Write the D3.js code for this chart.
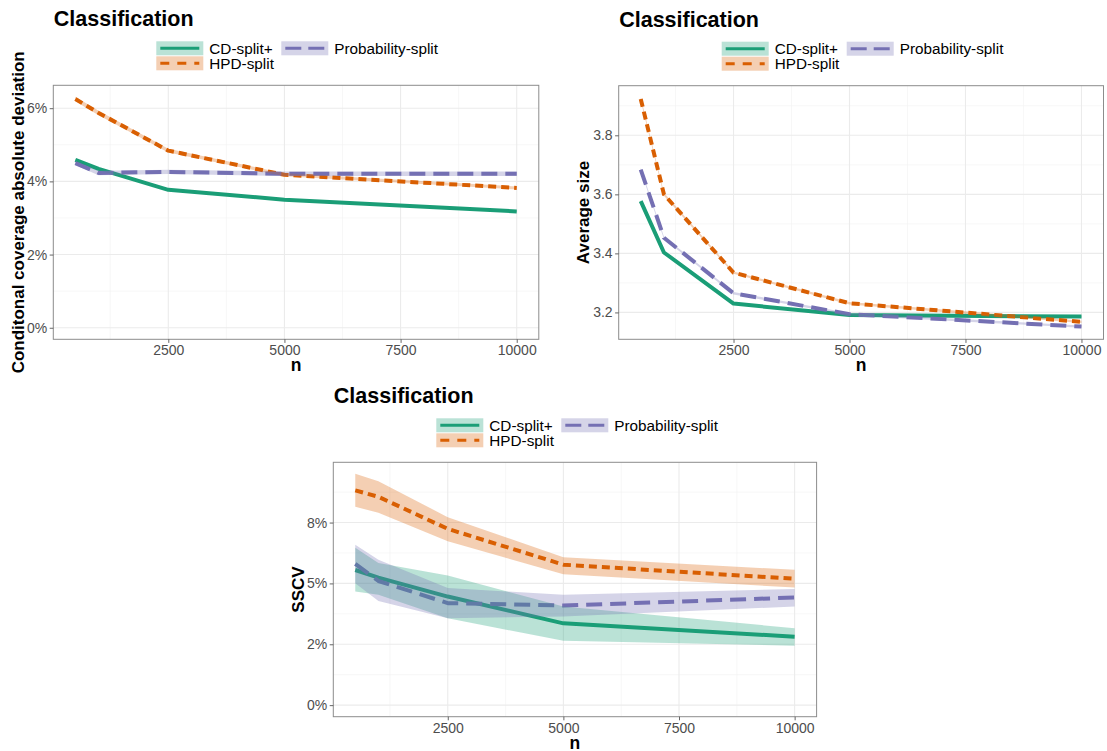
<!DOCTYPE html>
<html>
<head>
<meta charset="utf-8">
<script src="https://cdn.jsdelivr.net/npm/d3@7"></script>
<style>
  html, body { margin: 0; padding: 0; background: #ffffff; }
  svg { display: block; font-family: "Liberation Sans", Arial, Helvetica, sans-serif; }
</style>
</head>
<body>
<svg id="chart" width="1107" height="751"></svg>
<script>
// ---------------- data ----------------
const sampleSizes = [500, 1000, 2500, 5000, 10000];
const methods = ["CD-split+", "HPD-split", "Probability-split"];
const xTicks = [2500, 5000, 7500, 10000];
const xTickLabels = ["2500", "5000", "7500", "10000"];
const xMinor = [1250, 3750, 6250, 8750];

// Panel 1: conditional coverage absolute deviation
const ccadCD = [0.0459, 0.0434, 0.0377, 0.0350, 0.0318];
const ccadCDLo = [0.0456, 0.0431, 0.0375, 0.0348, 0.0316];
const ccadCDHi = [0.0462, 0.0437, 0.0379, 0.0352, 0.0320];
const ccadHPD = [0.0625, 0.0587, 0.0484, 0.0418, 0.0382];
const ccadHPDLo = [0.0619, 0.0581, 0.0479, 0.0414, 0.0378];
const ccadHPDHi = [0.0631, 0.0593, 0.0489, 0.0422, 0.0386];
const ccadProb = [0.0450, 0.0423, 0.0426, 0.0421, 0.0421];
const ccadProbLo = [0.0444, 0.0417, 0.0420, 0.0415, 0.0415];
const ccadProbHi = [0.0456, 0.0429, 0.0432, 0.0427, 0.0427];
const ccadYTicks = [0, 0.02, 0.04, 0.06];
const ccadYLabels = ["0%", "2%", "4%", "6%"];
const ccadYMinor = [0.01, 0.03, 0.05];

// Panel 2: average size
const sizeCD = [3.577, 3.403, 3.230, 3.191, 3.186];
const sizeCDLo = [3.574, 3.400, 3.227, 3.188, 3.183];
const sizeCDHi = [3.580, 3.406, 3.233, 3.194, 3.189];
const sizeHPD = [3.923, 3.600, 3.335, 3.231, 3.168];
const sizeHPDLo = [3.917, 3.595, 3.331, 3.227, 3.164];
const sizeHPDHi = [3.929, 3.605, 3.339, 3.235, 3.172];
const sizeProb = [3.684, 3.453, 3.265, 3.194, 3.152];
const sizeProbLo = [3.679, 3.449, 3.261, 3.190, 3.148];
const sizeProbHi = [3.689, 3.457, 3.269, 3.198, 3.156];
const sizeYTicks = [3.2, 3.4, 3.6, 3.8];
const sizeYLabels = ["3.2", "3.4", "3.6", "3.8"];
const sizeYMinor = [3.3, 3.5, 3.7, 3.9];

// Panel 3: SSCV
const sscvCD = [0.0555, 0.0524, 0.0446, 0.0336, 0.0281];
const sscvCDLo = [0.0467, 0.0453, 0.0357, 0.0264, 0.0244];
const sscvCDHi = [0.0646, 0.0584, 0.0532, 0.0405, 0.0316];
const sscvHPD = [0.0882, 0.0856, 0.0724, 0.0577, 0.0519];
const sscvHPDLo = [0.0815, 0.0790, 0.0673, 0.0538, 0.0483];
const sscvHPDHi = [0.0950, 0.0920, 0.0772, 0.0607, 0.0556];
const sscvProb = [0.0580, 0.0510, 0.0419, 0.0409, 0.0442];
const sscvProbLo = [0.0501, 0.0428, 0.0357, 0.0364, 0.0405];
const sscvProbHi = [0.0659, 0.0597, 0.0481, 0.0453, 0.0477];
const sscvYTicks = [0, 0.025, 0.05, 0.075];
const sscvYLabels = ["0%", "2%", "5%", "8%"];
const sscvYMinor = [0.0125, 0.0375, 0.0625, 0.0875];

// ---------------- styles ----------------
const colors = ["#1B9E77", "#D95F02", "#7570B3"];
const dashes = [null, "8,5", "16,8"];
const keyDashes = [null, "9,8", "16,7"];
const ribbonOpacity = 0.3;
const lineW = 4;

const svg = d3.select("#chart");
svg.append("rect").attr("width", 1107).attr("height", 751).attr("fill", "#ffffff");

function drawPanel(cfg) {
  const g = svg.append("g");
  const { left, right, top, bottom } = cfg.box;

  const x = d3.scaleLinear()
    .domain([500 - 0.05 * 9500, 10000 + 0.05 * 9500])
    .range([left, right]);

  let lo = d3.min(cfg.series, s => d3.min(s.lo));
  let hi = d3.max(cfg.series, s => d3.max(s.hi));
  if (cfg.includeZero) lo = Math.min(lo, 0);
  const pad = (hi - lo) * 0.05;
  const y = d3.scaleLinear().domain([lo - pad, hi + pad]).range([bottom, top]);

  // grid
  const grid = g.append("g");
  cfg.yMinor.filter(v => v >= y.domain()[0] && v <= y.domain()[1]).forEach(v => {
    grid.append("line").attr("x1", left).attr("x2", right)
      .attr("y1", y(v)).attr("y2", y(v)).attr("stroke", "#F2F2F2").attr("stroke-width", 0.6);
  });
  xMinor.forEach(v => {
    grid.append("line").attr("x1", x(v)).attr("x2", x(v))
      .attr("y1", top).attr("y2", bottom).attr("stroke", "#F2F2F2").attr("stroke-width", 0.6);
  });
  cfg.yTicks.forEach(v => {
    grid.append("line").attr("x1", left).attr("x2", right)
      .attr("y1", y(v)).attr("y2", y(v)).attr("stroke", "#EBEBEB").attr("stroke-width", 1.1);
  });
  xTicks.forEach(v => {
    grid.append("line").attr("x1", x(v)).attr("x2", x(v))
      .attr("y1", top).attr("y2", bottom).attr("stroke", "#EBEBEB").attr("stroke-width", 1.1);
  });

  const clipId = "clip" + cfg.id;
  svg.append("clipPath").attr("id", clipId).append("rect")
    .attr("x", left).attr("y", top).attr("width", right - left).attr("height", bottom - top);
  const plot = g.append("g").attr("clip-path", `url(#${clipId})`);

  // lines
  const line = d3.line().x(d => x(d.n)).y(d => y(d.v));
  cfg.series.forEach((s, i) => {
    const pts = sampleSizes.map((nn, k) => ({ n: nn, v: s.mid[k] }));
    const p = plot.append("path").attr("d", line(pts)).attr("fill", "none")
      .attr("stroke", colors[i]).attr("stroke-width", lineW)
      .attr("stroke-linejoin", "round").attr("stroke-linecap", "butt");
    if (dashes[i]) p.attr("stroke-dasharray", dashes[i]);
  });
  // ribbons
  const area = d3.area().x(d => x(d.n)).y0(d => y(d.lo)).y1(d => y(d.hi));
  cfg.series.forEach((s, i) => {
    const pts = sampleSizes.map((nn, k) => ({ n: nn, lo: s.lo[k], hi: s.hi[k] }));
    plot.append("path").attr("d", area(pts)).attr("fill", colors[i])
      .attr("fill-opacity", ribbonOpacity).attr("stroke", "none");
  });

  // border
  g.append("rect").attr("x", left).attr("y", top).attr("width", right - left)
    .attr("height", bottom - top).attr("fill", "none").attr("stroke", "#8C8C8C").attr("stroke-width", 1);

  // axes
  const xAxis = d3.axisBottom(x).tickValues(xTicks).tickFormat((d, i) => xTickLabels[i])
    .tickSize(3.6).tickPadding(2.5);
  const xa = g.append("g").attr("transform", `translate(0,${bottom})`).call(xAxis);
  xa.select(".domain").remove();
  xa.selectAll("line").attr("stroke", "#555").attr("stroke-width", 0.9);
  xa.selectAll("text").attr("fill", "#4D4D4D").attr("font-size", 14)
    .attr("font-family", "Liberation Sans, Arial, sans-serif");

  const yAxis = d3.axisLeft(y).tickValues(cfg.yTicks).tickFormat((d, i) => cfg.yLabels[i])
    .tickSize(3.6).tickPadding(2.5);
  const ya = g.append("g").attr("transform", `translate(${left},0)`).call(yAxis);
  ya.select(".domain").remove();
  ya.selectAll("line").attr("stroke", "#555").attr("stroke-width", 0.9);
  ya.selectAll("text").attr("fill", "#4D4D4D").attr("font-size", 14)
    .attr("font-family", "Liberation Sans, Arial, sans-serif");

  // axis titles
  g.append("text").attr("x", (left + right) / 2).attr("y", bottom + 32)
    .attr("text-anchor", "middle").attr("font-size", 17.5).attr("font-weight", "bold")
    .attr("fill", "#000").text("n");
  g.append("text")
    .attr("transform", `translate(${left - 29.5},${(top + bottom) / 2}) rotate(-90)`)
    .attr("text-anchor", "middle").attr("font-size", 17).attr("font-weight", "bold")
    .attr("fill", "#000").text(cfg.yTitle);

  // title
  g.append("text").attr("x", left + 0.5).attr("y", top - 59)
    .attr("font-size", 21.5).attr("font-weight", "bold").attr("fill", "#000")
    .text("Classification");

  // legend
  const legLeft = left + 103;
  const legTop = top - 44;
  const keyW = 47, keyH = 14, pitch = 15;
  const positions = [
    { x: legLeft, y: legTop },
    { x: legLeft, y: legTop + pitch },
    { x: legLeft + 125, y: legTop }
  ];
  methods.forEach((m, i) => {
    const p = positions[i];
    g.append("rect").attr("x", p.x).attr("y", p.y).attr("width", keyW).attr("height", keyH)
      .attr("fill", colors[i]).attr("fill-opacity", ribbonOpacity);
    const l = g.append("line").attr("x1", p.x + 4).attr("x2", p.x + keyW - 4)
      .attr("y1", p.y + keyH / 2).attr("y2", p.y + keyH / 2)
      .attr("stroke", colors[i]).attr("stroke-width", 3);
    if (keyDashes[i]) l.attr("stroke-dasharray", keyDashes[i]);
    g.append("text").attr("x", p.x + keyW + 6).attr("y", p.y + keyH / 2 + 5.5)
      .attr("font-size", 15.3).attr("fill", "#000").text(m);
  });
}

drawPanel({
  id: 1,
  box: { left: 53.3, right: 538.8, top: 85.3, bottom: 339.3 },
  includeZero: true,
  series: [
    { mid: ccadCD, lo: ccadCDLo, hi: ccadCDHi },
    { mid: ccadHPD, lo: ccadHPDLo, hi: ccadHPDHi },
    { mid: ccadProb, lo: ccadProbLo, hi: ccadProbHi }
  ],
  yTicks: ccadYTicks, yLabels: ccadYLabels, yMinor: ccadYMinor,
  yTitle: "Conditonal coverage absolute deviation"
});

drawPanel({
  id: 2,
  box: { left: 618.7, right: 1103.5, top: 85.7, bottom: 339.3 },
  includeZero: false,
  series: [
    { mid: sizeCD, lo: sizeCDLo, hi: sizeCDHi },
    { mid: sizeHPD, lo: sizeHPDLo, hi: sizeHPDHi },
    { mid: sizeProb, lo: sizeProbLo, hi: sizeProbHi }
  ],
  yTicks: sizeYTicks, yLabels: sizeYLabels, yMinor: sizeYMinor,
  yTitle: "Average size"
});

drawPanel({
  id: 3,
  box: { left: 333.3, right: 816.6, top: 462.3, bottom: 716.7 },
  includeZero: true,
  series: [
    { mid: sscvCD, lo: sscvCDLo, hi: sscvCDHi },
    { mid: sscvHPD, lo: sscvHPDLo, hi: sscvHPDHi },
    { mid: sscvProb, lo: sscvProbLo, hi: sscvProbHi }
  ],
  yTicks: sscvYTicks, yLabels: sscvYLabels, yMinor: sscvYMinor,
  yTitle: "SSCV"
});
</script>
</body>
</html>
